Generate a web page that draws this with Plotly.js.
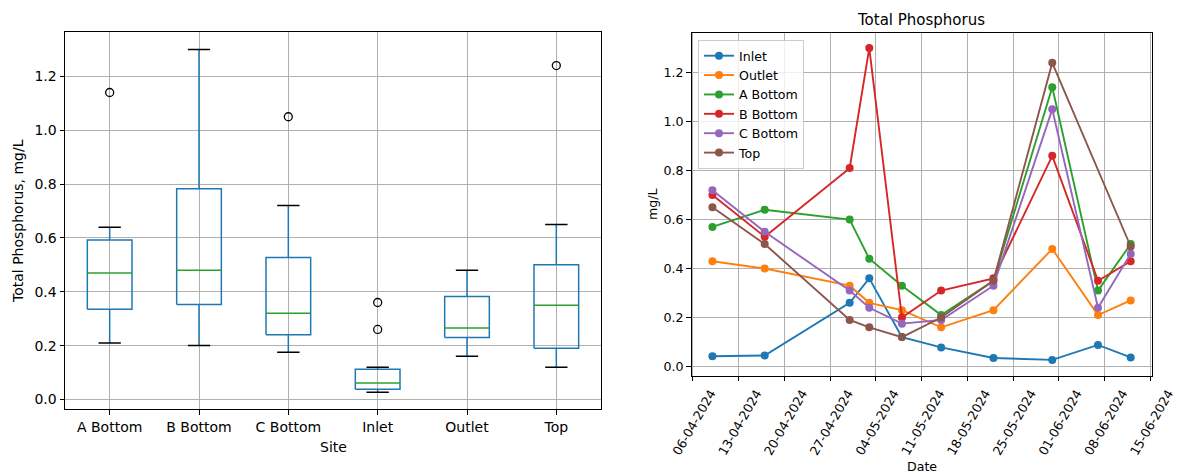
<!DOCTYPE html>
<html>
<head>
<meta charset="utf-8">
<script src="https://cdn.plot.ly/plotly-3.0.1.min.js"></script>
<style>
  html, body { margin: 0; padding: 0; background: #ffffff; }
  #chart { width: 1177px; height: 474px; }
</style>
</head>
<body>
<div id="chart"></div>
<script>
// Sampling dates and total phosphorus (mg/L) per site
const sampleDates = ['2024-04-09', '2024-04-17', '2024-04-30', '2024-05-03', '2024-05-08',
                     '2024-05-14', '2024-05-22', '2024-05-31', '2024-06-07', '2024-06-12'];
const inlet   = [0.042, 0.045, 0.26, 0.36, 0.12, 0.078, 0.035, 0.027, 0.088, 0.037];
const outlet  = [0.43, 0.40, 0.33, 0.26, 0.23, 0.16, 0.23, 0.48, 0.21, 0.27];
const aBottom = [0.57, 0.64, 0.60, 0.44, 0.33, 0.21, 0.35, 1.14, 0.31, 0.50];
const bBottom = [0.70, 0.53, 0.81, 1.30, 0.20, 0.31, 0.36, 0.86, 0.35, 0.43];
const cBottom = [0.72, 0.55, 0.31, 0.24, 0.175, 0.19, 0.33, 1.05, 0.24, 0.46];
const top_    = [0.65, 0.50, 0.19, 0.16, 0.12, 0.20, 0.35, 1.24, null, 0.49];

// Box plot categories (alphabetical site order)
const sites = ['A Bottom', 'B Bottom', 'C Bottom', 'Inlet', 'Outlet', 'Top'];
const siteValues = [aBottom, bBottom, cBottom, inlet, outlet, top_];

// Line chart series (legend order)
const lineNames  = ['Inlet', 'Outlet', 'A Bottom', 'B Bottom', 'C Bottom', 'Top'];
const lineSeries = [inlet, outlet, aBottom, bBottom, cBottom, top_];
const lineColors = ['#1f77b4', '#ff7f0e', '#2ca02c', '#d62728', '#9467bd', '#8c564b'];

const yTicks = [0, 0.2, 0.4, 0.6, 0.8, 1.0, 1.2];

// Linear-interpolated quantile on sorted data
function quantile(sorted, p) {
  const pos = (sorted.length - 1) * p;
  const lo = Math.floor(pos), hi = Math.ceil(pos);
  return sorted[lo] + (sorted[hi] - sorted[lo]) * (pos - lo);
}

function boxStats(values) {
  const s = values.filter(v => v !== null).sort((a, b) => a - b);
  const q1 = quantile(s, 0.25), med = quantile(s, 0.5), q3 = quantile(s, 0.75);
  const iqr = q3 - q1;
  const inside = s.filter(v => v >= q1 - 1.5 * iqr && v <= q3 + 1.5 * iqr);
  const lo = inside[0], hi = inside[inside.length - 1];
  const fliers = s.filter(v => v < lo || v > hi);
  return { q1, med, q3, lo, hi, fliers };
}

// Build the box plot pieces as line paths in data space
const boxW = 0.5, capW = 0.25;
const boxX = [], boxY = [], whX = [], whY = [], capX = [], capY = [], medX = [], medY = [], flX = [], flY = [];
siteValues.forEach((vals, i) => {
  const x = i + 1;
  const st = boxStats(vals);
  const h = boxW / 2, c = capW / 2;
  boxX.push(x - h, x + h, x + h, x - h, x - h, null);
  boxY.push(st.q1, st.q1, st.q3, st.q3, st.q1, null);
  whX.push(x, x, null, x, x, null);
  whY.push(st.q1, st.lo, null, st.q3, st.hi, null);
  capX.push(x - c, x + c, null, x - c, x + c, null);
  capY.push(st.lo, st.lo, null, st.hi, st.hi, null);
  medX.push(x - h, x + h, null);
  medY.push(st.med, st.med, null);
  st.fliers.forEach(v => { flX.push(x); flY.push(v); });
});

const traces = [
  { x: boxX, y: boxY, xaxis: 'x', yaxis: 'y', mode: 'lines', showlegend: false, hoverinfo: 'skip',
    line: { color: '#1f77b4', width: 1.5 } },
  { x: whX, y: whY, xaxis: 'x', yaxis: 'y', mode: 'lines', showlegend: false, hoverinfo: 'skip',
    line: { color: '#1f77b4', width: 1.5 } },
  { x: capX, y: capY, xaxis: 'x', yaxis: 'y', mode: 'lines', showlegend: false, hoverinfo: 'skip',
    line: { color: '#000000', width: 1.5 } },
  { x: medX, y: medY, xaxis: 'x', yaxis: 'y', mode: 'lines', showlegend: false, hoverinfo: 'skip',
    line: { color: '#2ca02c', width: 1.5 } },
  { x: flX, y: flY, xaxis: 'x', yaxis: 'y', mode: 'markers', showlegend: false,
    marker: { symbol: 'circle-open', size: 8, color: '#000000', line: { width: 1.3, color: '#000000' } } }
];

lineSeries.forEach((vals, i) => {
  traces.push({
    x: sampleDates, y: vals, name: lineNames[i], xaxis: 'x2', yaxis: 'y2',
    type: 'scatter', mode: 'lines+markers', connectgaps: true,
    line: { color: lineColors[i], width: 1.9 },
    marker: { color: lineColors[i], size: 8 }
  });
});

const W = 1177, H = 474;
const font = { family: 'DejaVu Sans, sans-serif', color: '#000000' };
const gridColor = '#b0b0b0';

const commonAxis = {
  showline: true, mirror: true, linecolor: '#000000', linewidth: 1,
  ticks: 'outside', ticklen: 4.5, tickwidth: 1, tickcolor: '#000000',
  showgrid: true, gridcolor: gridColor, gridwidth: 1, zeroline: false,
  fixedrange: true
};

const layout = {
  width: W, height: H,
  margin: { l: 0, r: 0, t: 0, b: 0 },
  paper_bgcolor: '#ffffff', plot_bgcolor: '#ffffff',
  font: Object.assign({ size: 12.6 }, font),
  title: {
    text: 'Total Phosphorus',
    font: Object.assign({ size: 15 }, font),
    x: 921.5 / W, y: 1 - 20 / H, xanchor: 'center', yanchor: 'middle'
  },
  xaxis: Object.assign({}, commonAxis, {
    domain: [65 / W, 601 / W], anchor: 'y',
    range: [0.5, 6.5], tickmode: 'array', tickvals: sites.map((s, i) => i + 1), ticktext: sites,
    tickfont: Object.assign({ size: 14 }, font)
  }),
  yaxis: Object.assign({}, commonAxis, {
    domain: [1 - 409.3 / H, 1 - 32.3 / H], anchor: 'x',
    range: [-0.0366, 1.3636], tickmode: 'array', tickvals: yTicks, ticktext: yTicks.map(v => v.toFixed(1)),
    tickfont: Object.assign({ size: 14 }, font)
  }),
  xaxis2: Object.assign({}, commonAxis, {
    domain: [691.5 / W, 1151.6 / W], anchor: 'y2', type: 'date',
    range: ['2024-04-05 19:12', '2024-06-15 04:48'],
    tick0: '2024-04-06', dtick: 7 * 24 * 3600 * 1000, tickformat: '%d-%m-%Y', tickangle: -60,
    ticklabelshift: 18,
    tickfont: Object.assign({ size: 12.6 }, font)
  }),
  yaxis2: Object.assign({}, commonAxis, {
    domain: [1 - 375.5 / H, 1 - 32.5 / H], anchor: 'x2',
    range: [-0.0367, 1.3637], tickmode: 'array', tickvals: yTicks, ticktext: yTicks.map(v => v.toFixed(1)),
    tickfont: Object.assign({ size: 12.6 }, font)
  }),
  showlegend: true,
  legend: {
    x: 698 / W, y: 1 - 40 / H, xanchor: 'left', yanchor: 'top',
    bgcolor: 'rgba(255,255,255,0.8)', bordercolor: '#cccccc', borderwidth: 1,
    font: Object.assign({ size: 12.6 }, font), tracegroupgap: 0
  },
  annotations: [
    { text: 'Site', xref: 'paper', yref: 'paper', x: 333 / W, y: 1 - 446.5 / H,
      xanchor: 'center', yanchor: 'middle', showarrow: false, font: Object.assign({ size: 14 }, font) },
    { text: 'Total Phosphorus, mg/L', xref: 'paper', yref: 'paper', x: 18 / W, y: 1 - 221 / H,
      xanchor: 'center', yanchor: 'middle', textangle: -90, showarrow: false, font: Object.assign({ size: 14 }, font) },
    { text: 'Date', xref: 'paper', yref: 'paper', x: 921.5 / W, y: 1 - 466.5 / H,
      xanchor: 'center', yanchor: 'middle', showarrow: false, font: Object.assign({ size: 12.6 }, font) },
    { text: 'mg/L', xref: 'paper', yref: 'paper', x: 652 / W, y: 1 - 204 / H,
      xanchor: 'center', yanchor: 'middle', textangle: -90, showarrow: false, font: Object.assign({ size: 12.6 }, font) }
  ]
};

Plotly.newPlot('chart', traces, layout, { displayModeBar: false, staticPlot: true });
</script>
</body>
</html>
